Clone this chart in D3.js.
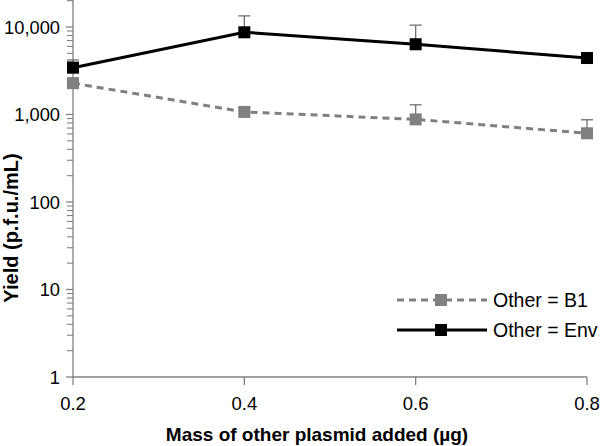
<!DOCTYPE html>
<html><head><meta charset="utf-8">
<script src="https://cdn.jsdelivr.net/npm/d3@7"></script>
<style>body{margin:0;background:#fff}svg{display:block}text{font-family:"Liberation Sans",Arial,sans-serif}</style>
</head><body>
<svg id="c" width="600" height="446"></svg>
<script>
const xValues = [0.2, 0.4, 0.6, 0.8];
const xTickLabels = ["0.2", "0.4", "0.6", "0.8"];
const b1Values = [2280, 1070, 880, 610];
const b1ErrTop = [2600, 1200, 1290, 870];
const envValues = [3430, 8700, 6350, 4420];
const envErrTop = [4200, 13400, 10500, 4600];
const yMajorTicks = [1, 10, 100, 1000, 10000];
const yTickLabels = ["1", "10", "100", "1,000", "10,000"];
const seriesNames = ["Other = B1", "Other = Env"];

const svg = d3.select("#c");
const L = 73, R = 587, T = 27, B = 377;
const x = d3.scaleLinear().domain([0.2, 0.8]).range([L, R]);
const y = d3.scaleLog().domain([1, 10000]).range([B, T]);
const yTop = y.invert(0);

// y axis
svg.append("line").attr("x1", L).attr("x2", L).attr("y1", 0).attr("y2", B).attr("stroke", "#808080").attr("stroke-width", 1.3);
const minor = [];
for (let d = 1; d <= 10000; d *= 10) for (let k = 2; k <= 9; k++) if (d * k <= yTop) minor.push(d * k);
svg.selectAll(".mn").data(minor).enter().append("line")
  .attr("x1", L - 6).attr("x2", L).attr("y1", d => y(d)).attr("y2", d => y(d)).attr("stroke", "#808080").attr("stroke-width", 1.1);
svg.selectAll(".mj").data(yMajorTicks).enter().append("line")
  .attr("x1", L - 7).attr("x2", L).attr("y1", d => y(d)).attr("y2", d => y(d)).attr("stroke", "#808080").attr("stroke-width", 1.3);
svg.selectAll(".yl").data(yMajorTicks).enter().append("text")
  .attr("x", 60).attr("y", d => y(d) + 6.5).attr("text-anchor", "end").attr("font-size", 18.3).attr("fill", "#000")
  .text((d, i) => yTickLabels[i]);

// x axis
svg.append("line").attr("x1", L).attr("x2", R).attr("y1", B).attr("y2", B).attr("stroke", "#808080").attr("stroke-width", 1.3);
svg.selectAll(".xt").data(xValues).enter().append("line")
  .attr("x1", d => x(d)).attr("x2", d => x(d)).attr("y1", B).attr("y2", B + 8).attr("stroke", "#808080").attr("stroke-width", 1.3);
svg.selectAll(".xl").data(xValues).enter().append("text")
  .attr("x", d => x(d)).attr("y", 410).attr("text-anchor", "middle").attr("font-size", 18.5).attr("fill", "#000")
  .text((d, i) => xTickLabels[i]);

// titles
svg.append("text").attr("x", 317).attr("y", 441).attr("text-anchor", "middle").attr("font-size", 19).attr("font-weight", "bold")
  .text("Mass of other plasmid added (\u00b5g)");
svg.append("text").attr("transform", "translate(18,228) rotate(-90)").attr("text-anchor", "middle").attr("font-size", 20).attr("font-weight", "bold")
  .text("Yield (p.f.u./mL)");

const series = [
  {name: seriesNames[0], vals: b1Values, err: b1ErrTop, color: "#808080", dash: "7,5"},
  {name: seriesNames[1], vals: envValues, err: envErrTop, color: "#000000", dash: null}
];
const line = d3.line().x((d, i) => x(xValues[i])).y(d => y(d));
series.forEach(s => {
  const g = svg.append("g");
  g.selectAll(".eb").data(s.err).enter().append("line")
    .attr("x1", (d, i) => x(xValues[i])).attr("x2", (d, i) => x(xValues[i]))
    .attr("y1", (d, i) => y(s.vals[i])).attr("y2", d => y(d)).attr("stroke", "#707070").attr("stroke-width", 1.3);
  g.selectAll(".ec").data(s.err).enter().append("line")
    .attr("x1", (d, i) => x(xValues[i]) - 6).attr("x2", (d, i) => x(xValues[i]) + 6)
    .attr("y1", d => y(d)).attr("y2", d => y(d)).attr("stroke", "#707070").attr("stroke-width", 1.3);
  g.append("path").attr("d", line(s.vals)).attr("fill", "none").attr("stroke", s.color).attr("stroke-width", 3)
    .attr("stroke-dasharray", s.dash);
  g.selectAll(".mk").data(s.vals).enter().append("rect")
    .attr("x", (d, i) => x(xValues[i]) - 6).attr("y", d => y(d) - 6).attr("width", 12).attr("height", 12).attr("fill", s.color);
});

// legend
series.forEach((s, i) => {
  const ly = 300 + i * 30;
  svg.append("line").attr("x1", 397).attr("x2", 487).attr("y1", ly).attr("y2", ly).attr("stroke", s.color).attr("stroke-width", 3)
    .attr("stroke-dasharray", s.dash);
  svg.append("rect").attr("x", 435).attr("y", ly - 6).attr("width", 12).attr("height", 12).attr("fill", s.color);
  svg.append("text").attr("x", 493).attr("y", ly + 7).attr("font-size", 19.5).text(s.name);
});
</script>
</body></html>
